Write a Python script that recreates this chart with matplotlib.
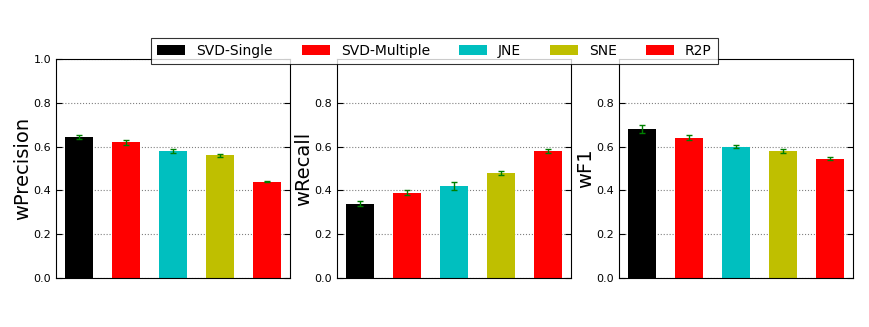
import matplotlib
matplotlib.use("Agg")
import matplotlib.pyplot as plt
import numpy as np

methods = ["SVD-Single", "SVD-Multiple", "JNE", "SNE", "R2P"]
colors = ["k", "r", "c", "y", "r"]
metrics = ["wPrecision", "wRecall", "wF1"]
precision = [0.645, 0.62, 0.58, 0.56, 0.44]
precision_err = [0.010, 0.012, 0.008, 0.008, 0.002]
recall = [0.34, 0.39, 0.42, 0.48, 0.58]
recall_err = [0.010, 0.012, 0.020, 0.010, 0.008]
f1 = [0.68, 0.64, 0.60, 0.58, 0.545]
f1_err = [0.018, 0.012, 0.008, 0.007, 0.006]

values = [precision, recall, f1]
errors = [precision_err, recall_err, f1_err]

fig = plt.figure(figsize=(8.7, 3.27), dpi=100)
lefts = [56/870, 337/870, 619/870]
bottom = 49/327
width = 234/870
height = 219/327

handles = []
for i, (m, v, e) in enumerate(zip(metrics, values, errors)):
    ax = fig.add_axes([lefts[i], bottom, width, height])
    x = np.arange(len(methods))
    bars = ax.bar(x, v, width=0.6, color=colors, edgecolor='none',
                  yerr=e, ecolor='green', capsize=2.5, error_kw=dict(elinewidth=1, capthick=1))
    if i == 0:
        handles = bars.patches
    ax.set_xlim(-0.5, 4.5)
    ax.set_ylim(0, 1.0)
    if i == 0:
        ax.set_yticks([0.0, 0.2, 0.4, 0.6, 0.8, 1.0])
    else:
        ax.set_yticks([0.0, 0.2, 0.4, 0.6, 0.8])
    ax.set_xticks([])
    ax.tick_params(axis='y', direction='in', labelsize=8, length=4, right=True)
    ax.yaxis.grid(True, linestyle=':', color='gray', linewidth=0.8)
    ax.set_axisbelow(True)
    ax.set_ylabel(m, fontsize=14, labelpad=1)
    for s in ax.spines.values():
        s.set_linewidth(0.8)

leg = fig.legend(handles, methods, loc='center', bbox_to_anchor=(0.4994, 0.844),
                 ncol=5, fontsize=10, frameon=True, fancybox=False,
                 handlelength=2.0, handletextpad=0.8, columnspacing=2.1, borderpad=0.45)
leg.get_frame().set_edgecolor('black')
leg.get_frame().set_linewidth(0.8)

fig.savefig("out.png", dpi=100)
